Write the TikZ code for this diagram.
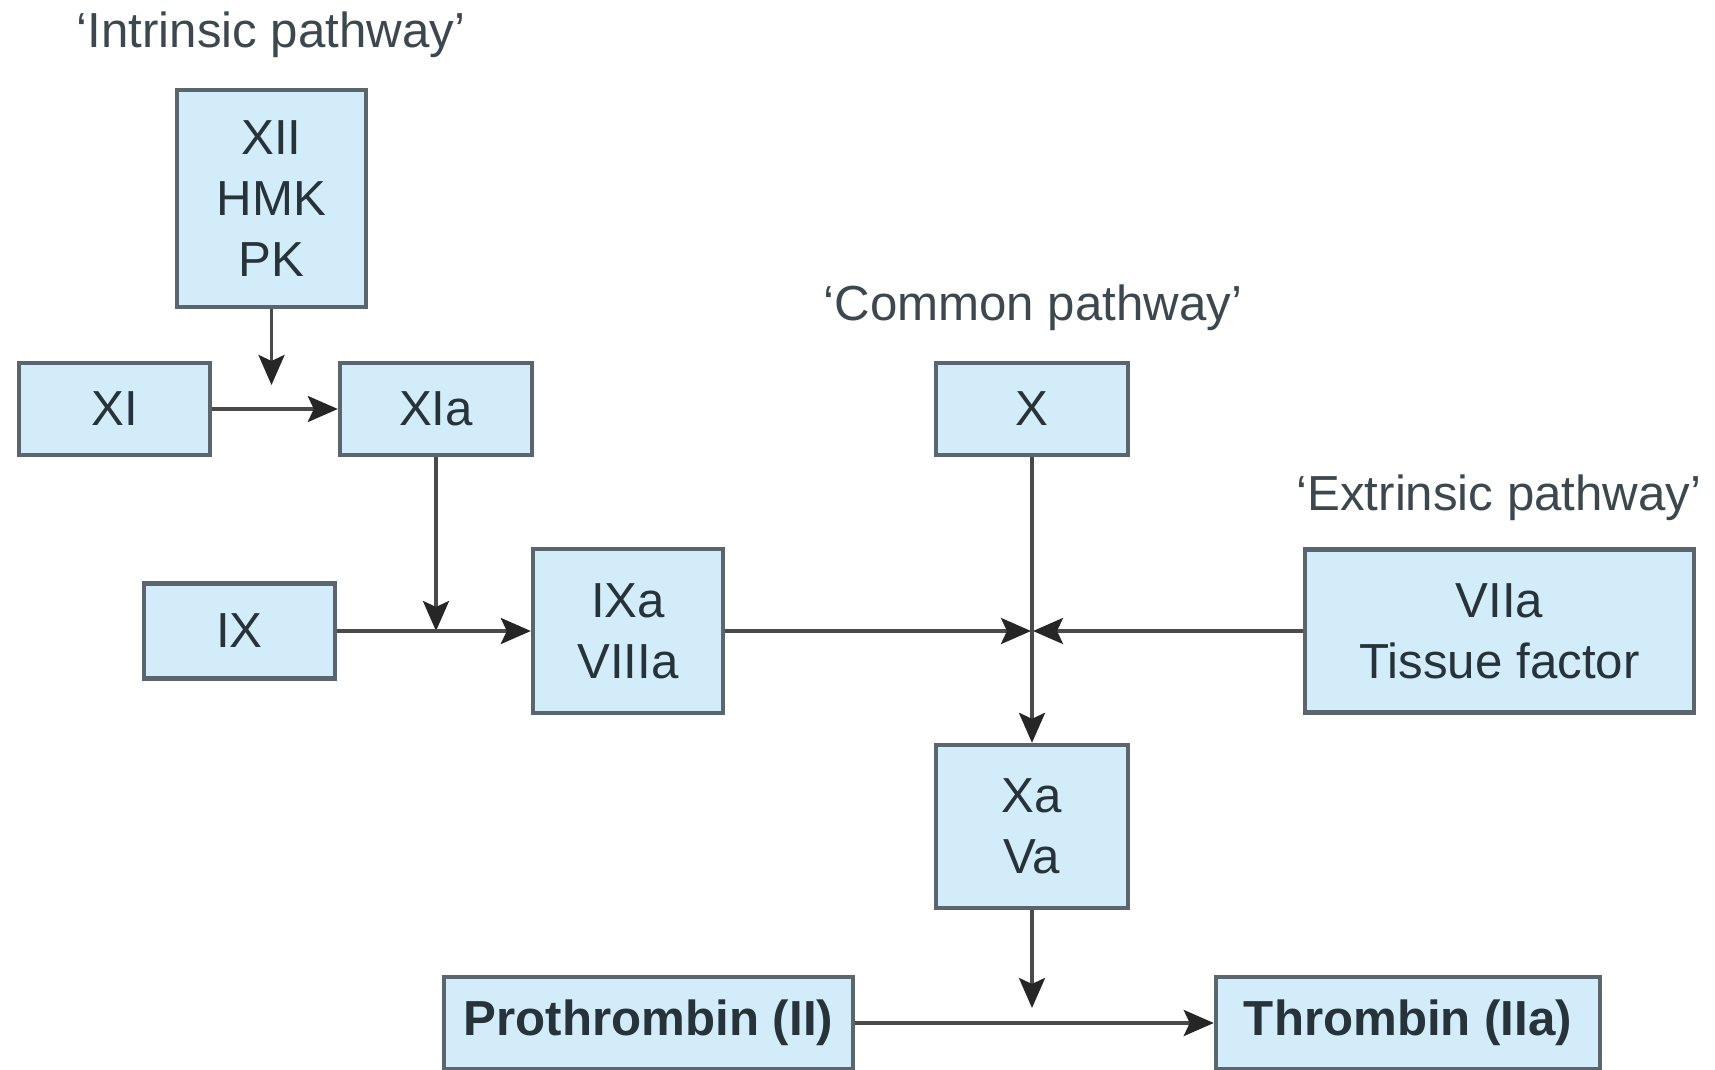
\documentclass[tikz,border=0pt]{standalone}
\usepackage{fontspec}
\setmainfont{Liberation Sans}
\usetikzlibrary{arrows.meta,positioning,calc}
\definecolor{cfblue}{HTML}{D3ECF9}
\definecolor{cfedge}{HTML}{5A656D}
\definecolor{cftext}{HTML}{26333A}
\definecolor{cfline}{HTML}{4A4A4A}

\begin{document}
\begin{tikzpicture}[
  x=0.01cm, y=-0.01cm,
  box/.style={
    draw=cfedge, line width=1.2pt, fill=cfblue,
    font=\fontsize{14}{17.3}\selectfont, text=cftext,
    align=center, inner sep=0pt
  },
  tag/.style={font=\fontsize{14}{17}\selectfont, text=cftext!90},
  arrow/.style={-{Stealth[length=3mm, width=2.6mm, inset=0.6mm, color=black!85]}, cfline, line width=1pt},
]
  \useasboundingbox (0,0) rectangle (1715,1070);

  % Intrinsic pathway
  \node[tag] (intr) at (271,35) {‘Intrinsic pathway’};
  \node[box, minimum width=1.89cm, minimum height=2.17cm] (xii) at (271.5,198.5) {XII\\HMK\\PK};
  \node[box, minimum width=1.91cm, minimum height=0.92cm] (xi)  at (114.5,409) {XI};
  \node[box, minimum width=1.92cm, minimum height=0.92cm] (xia) at (436,409) {XIa};
  \node[box, minimum width=1.91cm, minimum height=0.95cm] (ix)  at (239.5,631) {IX};
  \node[box, minimum width=1.90cm, minimum height=1.64cm] (ixa) at (628,631) {IXa\\VIIIa};

  % Common pathway
  \node[tag] (comm) at (1033,308) {‘Common pathway’};
  \node[box, minimum width=1.92cm, minimum height=0.92cm] (x)  at (1032,409) {X};
  \node[box, minimum width=1.92cm, minimum height=1.63cm] (xa) at (1032,826.5) {Xa\\Va};

  % Extrinsic pathway
  \node[tag] (extr) at (1499,498) {‘Extrinsic pathway’};
  \node[box, minimum width=3.89cm, minimum height=1.63cm] (viia) at (1499.5,631) {VIIa\\Tissue factor};

  % Thrombin
  \node[box, font=\fontsize{14}{17}\selectfont\bfseries, minimum width=4.09cm, minimum height=0.92cm] (pro) at (648.5,1023) {Prothrombin (II)};
  \node[box, font=\fontsize{14}{17}\selectfont\bfseries, minimum width=3.84cm, minimum height=0.92cm] (thr) at (1408,1023) {Thrombin (IIa)};

  % Junctions
  \coordinate (jxii) at (xii.south |- 0,385);
  \coordinate (jix) at (xia.south |- ixa.west);
  \coordinate (jc) at (x.south |- ixa.east);
  \coordinate (jpro) at (xa.south |- 0,1008);

  % Connectors
  \draw[arrow] (xii.south) -- (jxii);
  \draw[arrow] (xi.east) -- (xia.west);
  \draw[arrow] (xia.south) -- (jix);
  \draw[arrow] (ix.east) -- (ixa.west);
  \draw[arrow] (ixa.east) -- ($(jc)+(-1,0)$);
  \draw[arrow] (viia.west) -- ($(jc)+(1,0)$);
  \draw[arrow] (x.south) -- (xa.north);
  \draw[arrow] (xa.south) -- (jpro);
  \draw[arrow] (pro.east) -- (thr.west);

\end{tikzpicture}
\end{document}
